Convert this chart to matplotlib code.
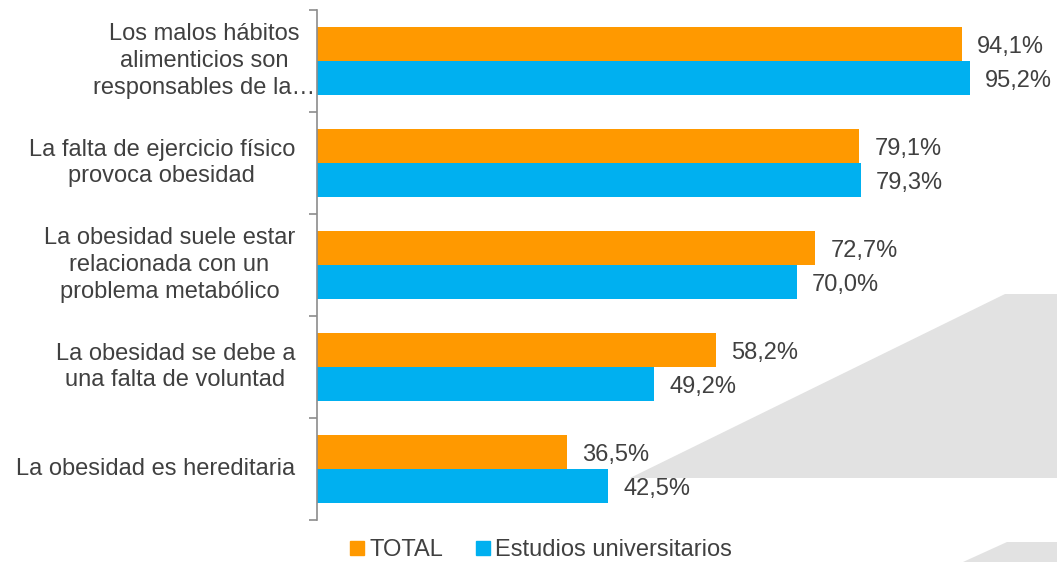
import matplotlib
matplotlib.use("Agg")
import matplotlib.pyplot as plt
from matplotlib.patches import Polygon
from matplotlib.lines import Line2D
from matplotlib.transforms import ScaledTranslation
import numpy as np

plt.rcParams['font.family'] = ['Liberation Sans', 'DejaVu Sans']

categories = [
    "Los malos hábitos\nalimenticios son\nresponsables de la…",
    "La falta de ejercicio físico\nprovoca obesidad",
    "La obesidad suele estar\nrelacionada con un\nproblema metabólico",
    "La obesidad se debe a\nuna falta de voluntad",
    "La obesidad es hereditaria",
]
total = [94.1, 79.1, 72.7, 58.2, 36.5]
universitarios = [95.2, 79.3, 70.0, 49.2, 42.5]
series_names = ["TOTAL", "Estudios universitarios"]

c_orange = "#FF9900"
c_blue = "#00B0F0"
c_text = "#404040"
FS = 17

W, H = 1057, 562
fig = plt.figure(figsize=(W/100, H/100), dpi=100)

def px(x, y):
    return (x / W, 1 - y / H)

# background decorative shapes
poly1 = Polygon([px(630, 478), px(1005, 294), px(1057, 294), px(1057, 478)],
                closed=True, transform=fig.transFigure, facecolor="#E2E2E2",
                edgecolor="none", zorder=0)
poly2 = Polygon([px(963, 562), px(1007, 542), px(1057, 542), px(1057, 562)],
                closed=True, transform=fig.transFigure, facecolor="#E2E2E2",
                edgecolor="none", zorder=0)
fig.patches.extend([poly1, poly2])

ax = fig.add_axes([317/W, 1-520/H, (1002.5-317)/W, 510/H])
ax.set_facecolor("none")
ax.set_zorder(2)

n = len(categories)
y = np.arange(n)
h = 1/3
ax.barh(y - h/2, total, height=h, color=c_orange, zorder=2)
ax.barh(y + h/2, universitarios, height=h, color=c_blue, zorder=2)
ax.set_xlim(0, 100)
ax.set_ylim(n - 0.5, -0.5)

for i in range(n):
    ax.annotate(f"{total[i]:.1f}%".replace(".", ","), (total[i], y[i] - h/2),
                xytext=(11, 0), textcoords="offset points", va="center_baseline", ha="left",
                fontsize=FS, color=c_text)
    ax.annotate(f"{universitarios[i]:.1f}%".replace(".", ","), (universitarios[i], y[i] + h/2),
                xytext=(11, 0), textcoords="offset points", va="center_baseline", ha="left",
                fontsize=FS, color=c_text)

for s in ["top", "right", "bottom"]:
    ax.spines[s].set_visible(False)
ax.spines["left"].set_color("#8C8C8C")
ax.spines["left"].set_linewidth(1.2)
ax.set_xticks([])
ax.set_yticks(np.arange(n + 1) - 0.5)
ax.set_yticklabels([])
ax.tick_params(axis="y", length=6, width=1.2, color="#8C8C8C", direction="out")

for i, lab in enumerate(categories):
    dx = -22 if i > 0 else -2
    ax.text(0, y[i], lab, ha="right", va="center", multialignment="center",
            fontsize=FS, color=c_text, linespacing=1.27,
            transform=ax.transData + ScaledTranslation(dx/100, 0, fig.dpi_scale_trans))

handles = [Line2D([], [], marker="s", linestyle="none", markersize=9.5,
                  markerfacecolor=c, markeredgecolor=c) for c in (c_orange, c_blue)]
fig.legend(handles, series_names, loc="center", bbox_to_anchor=px(540, 550),
           ncol=2, frameon=False, fontsize=FS, handletextpad=0.1,
           columnspacing=1.3, handlelength=0.8, labelcolor=c_text,
           borderpad=0, borderaxespad=0)

fig.savefig("out.png", dpi=100)
